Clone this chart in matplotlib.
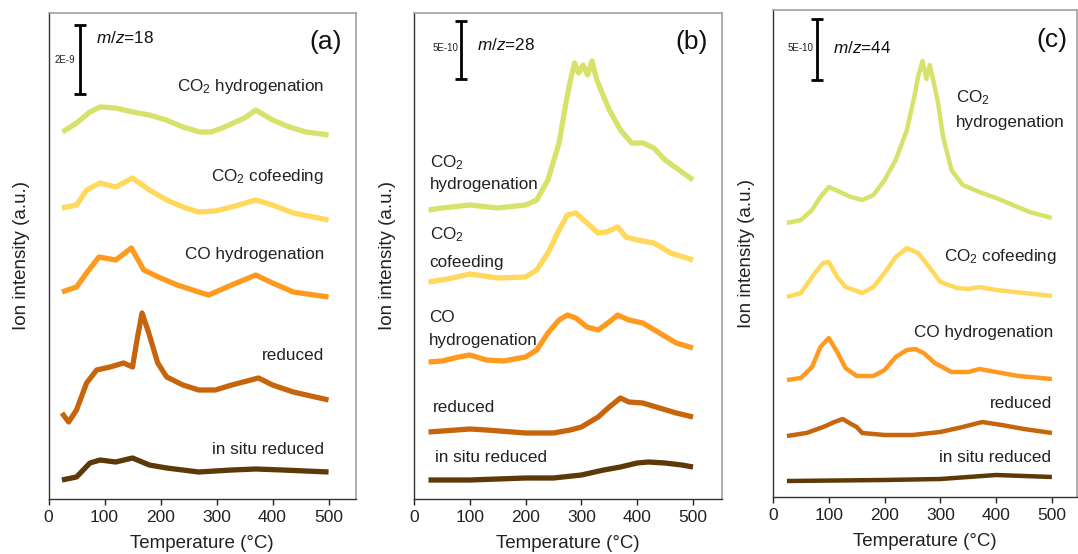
import matplotlib
matplotlib.use("Agg")
import matplotlib.pyplot as plt

plt.rcParams['font.family'] = ['Liberation Sans', 'DejaVu Sans']
plt.rcParams['mathtext.fontset'] = 'custom'
plt.rcParams['mathtext.rm'] = 'Liberation Sans'
plt.rcParams['mathtext.it'] = 'Liberation Sans:italic'

# ---------------- data (stacked intensity, a.u.) ----------------
series_names = ["CO2 hydrogenation", "CO2 cofeeding", "CO hydrogenation", "reduced", "in situ reduced"]
colors = ["#D6E26A", "#FFD85C", "#FF9A1F", "#C6650C", "#5C3906"]

# panel (a) m/z = 18
a_co2h_T = [25, 50, 74, 92, 120, 150, 180, 210, 240, 270, 290, 310, 330, 350, 370, 385, 400, 430, 460, 500]
a_co2h_v = [367, 376, 387, 392, 391, 387, 384, 379, 372, 367, 367, 371, 376, 381, 389, 384, 379, 372, 367, 364]
a_cof_T = [24, 50, 68, 92, 120, 150, 180, 211, 240, 268, 298, 327, 370, 400, 437, 500]
a_cof_v = [291, 294, 309, 316, 312, 321, 309, 299, 292, 287, 288, 292, 299, 294, 286, 279]
a_coh_T = [24, 50, 68, 90, 120, 148, 170, 200, 230, 268, 286, 327, 370, 400, 437, 500]
a_coh_v = [207, 212, 226, 242, 239, 251, 229, 221, 214, 207, 204, 214, 224, 216, 207, 202]
a_red_T = [24, 36, 50, 68, 86, 110, 134, 150, 158, 167, 179, 195, 211, 240, 268, 298, 327, 375, 400, 437, 500]
a_red_v = [86, 77, 89, 116, 129, 132, 136, 132, 159, 186, 166, 136, 122, 114, 109, 109, 114, 121, 114, 107, 99]
a_ins_T = [24, 50, 74, 92, 120, 150, 180, 211, 268, 327, 370, 418, 500]
a_ins_v = [19, 22, 36, 39, 37, 41, 34, 31, 27, 29, 30, 29, 27]

# panel (b) m/z = 28
b_co2h_T = [26, 50, 100, 150, 200, 220, 240, 260, 272, 280, 288, 295, 303, 311, 319, 327, 335, 350, 370, 390, 410, 430, 450, 470, 500]
b_co2h_v = [289, 291, 294, 291, 294, 299, 319, 356, 395, 418, 436, 426, 434, 424, 438, 420, 409, 389, 369, 356, 356, 351, 339, 331, 319]
b_cof_T = [26, 60, 100, 150, 200, 220, 240, 260, 275, 290, 310, 330, 345, 365, 380, 400, 430, 460, 500]
b_cof_v = [217, 220, 225, 221, 222, 229, 246, 269, 284, 286, 276, 266, 267, 272, 262, 259, 256, 246, 239]
b_coh_T = [26, 50, 80, 100, 130, 160, 200, 220, 240, 260, 275, 290, 310, 330, 350, 365, 385, 410, 440, 470, 500]
b_coh_v = [137, 138, 142, 144, 139, 138, 142, 149, 166, 179, 184, 181, 172, 169, 177, 184, 179, 176, 166, 156, 151]
b_red_T = [26, 100, 130, 200, 250, 280, 300, 330, 350, 370, 385, 410, 440, 470, 500]
b_red_v = [67, 70, 69, 66, 66, 69, 72, 82, 92, 101, 97, 96, 91, 86, 82]
b_ins_T = [26, 100, 200, 250, 300, 340, 370, 400, 420, 450, 480, 500]
b_ins_v = [19, 19, 21, 21, 24, 29, 32, 36, 37, 36, 34, 32]

# panel (c) m/z = 44
c_co2h_T = [25, 50, 70, 85, 100, 120, 140, 160, 180, 200, 220, 240, 254, 260, 268, 275, 281, 288, 295, 305, 320, 340, 370, 400, 430, 460, 500]
c_co2h_v = [274, 277, 287, 300, 310, 305, 300, 297, 302, 317, 337, 367, 402, 420, 436, 418, 432, 415, 397, 360, 327, 312, 305, 299, 292, 285, 279]
c_cof_T = [25, 50, 75, 90, 100, 115, 130, 160, 180, 200, 220, 240, 260, 280, 300, 330, 350, 370, 400, 450, 500]
c_cof_v = [200, 204, 224, 234, 235, 220, 210, 204, 210, 224, 240, 249, 244, 230, 215, 209, 208, 210, 207, 204, 201]
c_coh_T = [25, 50, 70, 85, 100, 115, 130, 150, 180, 200, 220, 240, 255, 270, 290, 320, 350, 370, 400, 440, 500]
c_coh_v = [117, 119, 130, 150, 159, 145, 129, 121, 121, 127, 140, 147, 148, 144, 134, 125, 125, 128, 125, 121, 118]
c_red_T = [25, 60, 90, 110, 125, 140, 150, 160, 200, 250, 300, 340, 375, 410, 450, 500]
c_red_v = [61, 64, 70, 75, 78, 73, 70, 64, 62, 62, 65, 70, 75, 72, 68, 64]
c_ins_T = [25, 200, 300, 350, 400, 450, 500]
c_ins_v = [16, 17, 18, 20, 22, 21, 20]

xticks = [0, 100, 200, 300, 400, 500]
panel_letters = ["(a)", "(b)", "(c)"]
mz_labels = ["$m/z$=18", "$m/z$=28", "$m/z$=44"]
scale_labels = ["2E-9", "5E-10", "5E-10"]

panels = [
    [(a_co2h_T, a_co2h_v), (a_cof_T, a_cof_v), (a_coh_T, a_coh_v), (a_red_T, a_red_v), (a_ins_T, a_ins_v)],
    [(b_co2h_T, b_co2h_v), (b_cof_T, b_cof_v), (b_coh_T, b_coh_v), (b_red_T, b_red_v), (b_ins_T, b_ins_v)],
    [(c_co2h_T, c_co2h_v), (c_cof_T, c_cof_v), (c_coh_T, c_coh_v), (c_red_T, c_red_v), (c_ins_T, c_ins_v)],
]

# ---------------- layout ----------------
W, H = 1078, 554
fig = plt.figure(figsize=(W / 100, H / 100), dpi=100)
boxes = [(48.5, 356, 13, 499), (414, 722, 13, 499), (773, 1077, 10, 497)]
xmax = [549, 552, 545]
lws = [3.8, 3.8, 3.2]

# label texts: (text, x, y, ha)
labels = [
    [("CO$_2$ hydrogenation", 492, 412, 'right'), ("CO$_2$ cofeeding", 492, 323, 'right'),
     ("CO hydrogenation", 492, 245, 'right'), ("reduced", 492, 144, 'right'),
     ("in situ reduced", 492, 49, 'right')],
    [("CO$_2$", 29, 336, 'left'), ("hydrogenation", 29, 314, 'left'),
     ("CO$_2$", 28, 264, 'left'), ("cofeeding", 28, 237, 'left'),
     ("CO", 27, 181, 'left'), ("hydrogenation", 27, 159, 'left'),
     ("reduced", 34, 91, 'left'), ("in situ reduced", 38, 41, 'left')],
    [("CO$_2$", 328, 399, 'left'), ("hydrogenation", 328, 375, 'left'),
     ("CO$_2$ cofeeding", 509, 241, 'right'), ("CO hydrogenation", 502, 165, 'right'),
     ("reduced", 500, 94, 'right'), ("in situ reduced", 498, 40, 'right')],
]
letter_pos = [(494, 457), (498, 457), (500, 457)]
mz_pos = [(85, 461), (113, 454), (108, 449)]
bar_pos = [(56, 439.5, 34.5), (84, 449, 29), (79, 447.5, 30.5)]
scale_txt_pos = [(47, 439), (79, 451), (73, 449)]

for i, (l, r, t, b) in enumerate(boxes):
    ax = fig.add_axes([l / W, (H - b) / H, (r - l) / W, (b - t) / H])
    for (T, v), c in zip(panels[i], colors):
        ax.plot(T, v, color=c, lw=lws[i], solid_joinstyle='round', solid_capstyle='butt')
    ax.set_xlim(0, xmax[i])
    ax.set_ylim(0, b - t)
    ax.set_xticks(xticks)
    ax.set_yticks([])
    ax.tick_params(axis='x', direction='out', length=4, width=1, labelsize=12.5, pad=4, colors='#222222')
    for s in ['top', 'right']:
        ax.spines[s].set_color('#a0a0a0')
        ax.spines[s].set_linewidth(1.2)
    for s in ['left', 'bottom']:
        ax.spines[s].set_color('#333333')
        ax.spines[s].set_linewidth(1.0)
    ax.set_xlabel("Temperature (\u00b0C)", fontsize=13.5, labelpad=7, color='#222222')
    ax.set_ylabel("Ion intensity (a.u.)", fontsize=13.5, labelpad=13, color='#222222')
    for txt, x, y, ha in labels[i]:
        ax.text(x, y, txt, ha=ha, va='center', fontsize=12.3, color='#222222')
    ax.text(*letter_pos[i], panel_letters[i], ha='center', va='center', fontsize=19, color='#111111')
    ax.text(*mz_pos[i], mz_labels[i], ha='left', va='center', fontsize=12.3, color='#111111')
    bx, by, be = bar_pos[i]
    ax.errorbar([bx], [by], yerr=[be], fmt='none', ecolor='black', elinewidth=2, capsize=4, capthick=2)
    ax.text(*scale_txt_pos[i], scale_labels[i], ha='right', va='center', fontsize=7, color='#222222')

fig.savefig("out.png", dpi=100)
